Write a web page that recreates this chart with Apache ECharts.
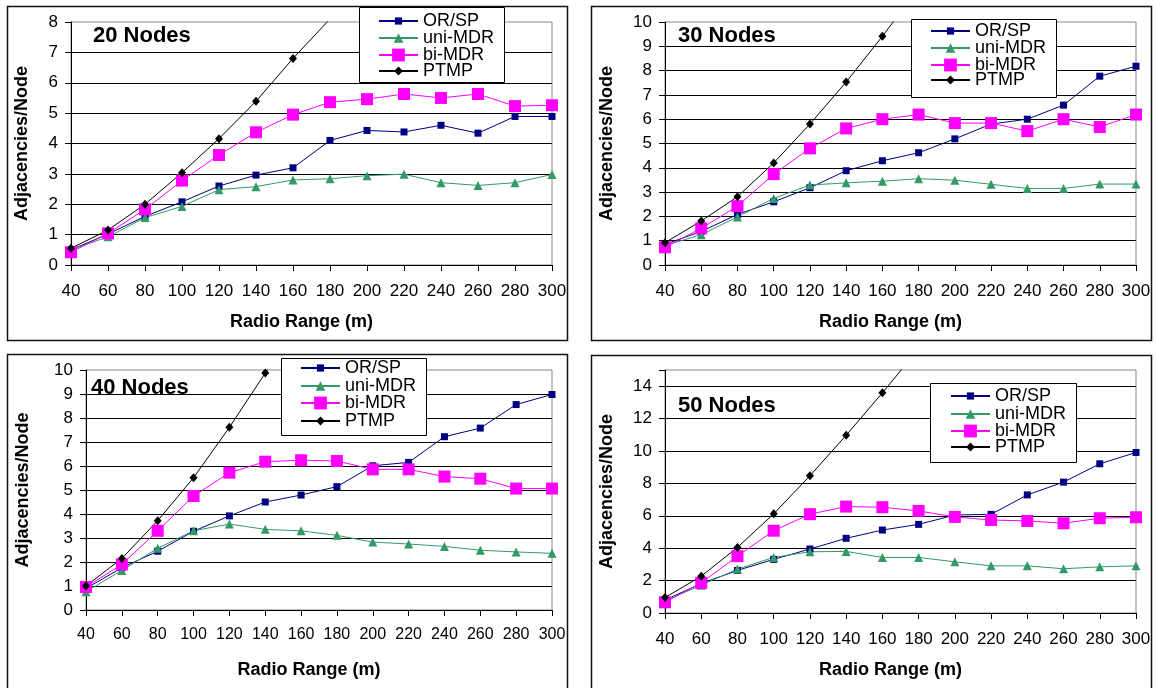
<!DOCTYPE html>
<html><head><meta charset="utf-8">
<script src="https://cdn.jsdelivr.net/npm/echarts@6/dist/echarts.min.js"></script>
<style>html,body{margin:0;padding:0;background:#fff}#c{width:1156px;height:688px}</style>
</head><body><div id="c"></div>
<script>
// ---------- DATA ----------
const radioRange = [40, 60, 80, 100, 120, 140, 160, 180, 200, 220, 240, 260, 280, 300];
const seriesNames = ['OR/SP', 'uni-MDR', 'bi-MDR', 'PTMP'];
const panelTitles = ['20 Nodes', '30 Nodes', '40 Nodes', '50 Nodes'];
const xAxisTitle = 'Radio Range (m)';
const yAxisTitle = 'Adjacencies/Node';
const yAxisMax = [8, 10, 10, 15];
const yAxisStep = [1, 1, 1, 2];

// 20 nodes
const orsp20 = [0.5, 1.02, 1.6, 2.08, 2.6, 2.96, 3.2, 4.1, 4.43, 4.38, 4.6, 4.34, 4.89, 4.89];
const uni20  = [0.5, 0.93, 1.56, 1.93, 2.48, 2.58, 2.8, 2.84, 2.94, 2.99, 2.71, 2.62, 2.71, 2.98];
const bi20   = [0.42, 1.04, 1.83, 2.78, 3.62, 4.37, 4.95, 5.36, 5.46, 5.63, 5.5, 5.63, 5.23, 5.26];
const ptmp20 = [0.55, 1.15, 2.0, 3.04, 4.16, 5.39, 6.8, 8.1];
// 30 nodes
const orsp30 = [0.85, 1.38, 2.08, 2.6, 3.18, 3.88, 4.29, 4.62, 5.19, 5.8, 6.0, 6.58, 7.77, 8.18];
const uni30  = [0.8, 1.25, 1.98, 2.74, 3.29, 3.38, 3.45, 3.55, 3.49, 3.32, 3.15, 3.15, 3.33, 3.33];
const bi30   = [0.73, 1.51, 2.42, 3.74, 4.8, 5.62, 6.0, 6.19, 5.84, 5.84, 5.51, 6.0, 5.68, 6.19];
const ptmp30 = [0.92, 1.81, 2.81, 4.2, 5.8, 7.53, 9.41, 11.4];
// 40 nodes
const orsp40 = [0.9, 1.76, 2.45, 3.28, 3.92, 4.5, 4.79, 5.14, 6.01, 6.15, 7.22, 7.58, 8.56, 8.98];
const uni40  = [0.76, 1.65, 2.57, 3.3, 3.58, 3.36, 3.3, 3.11, 2.83, 2.75, 2.65, 2.49, 2.42, 2.36];
const bi40   = [0.96, 1.9, 3.3, 4.75, 5.72, 6.18, 6.24, 6.21, 5.86, 5.86, 5.56, 5.47, 5.06, 5.06];
const ptmp40 = [1.0, 2.15, 3.72, 5.51, 7.61, 9.87, 12.3];
// 50 nodes
const orsp50 = [0.8, 1.82, 2.63, 3.31, 3.95, 4.61, 5.12, 5.47, 6.05, 6.09, 7.29, 8.08, 9.21, 9.91];
const uni50  = [0.75, 1.72, 2.71, 3.43, 3.78, 3.8, 3.43, 3.43, 3.16, 2.91, 2.91, 2.73, 2.85, 2.91];
const bi50   = [0.66, 1.86, 3.51, 5.08, 6.1, 6.57, 6.53, 6.3, 5.93, 5.74, 5.68, 5.54, 5.85, 5.91];
const ptmp50 = [0.95, 2.27, 4.05, 6.12, 8.47, 10.97, 13.59, 16.3];

const panelData = [
  [orsp20, uni20, bi20, ptmp20],
  [orsp30, uni30, bi30, ptmp30],
  [orsp40, uni40, bi40, ptmp40],
  [orsp50, uni50, bi50, ptmp50]
];

// ---------- LAYOUT / STYLE ----------
const FONT = '"Liberation Sans", Arial, sans-serif';
const layout = [
  { grid: {left: 71, top: 22, width: 481, height: 243}, box: [7, 6, 560, 334],
    legBox: [359, 7, 145, 75], legRows: [21, 38, 55, 71], legX: 378, title: [93, 35],
    yNameGap: 40, xNameGap: 48, xLabMargin: 18, xLabSize: 17 },
  { grid: {left: 665, top: 22, width: 471, height: 243}, box: [591, 6, 560, 334],
    legBox: [911, 19, 145, 78], legRows: [31, 48, 65, 80], legX: 930, title: [678, 35],
    yNameGap: 49, xNameGap: 48, xLabMargin: 18, xLabSize: 17 },
  { grid: {left: 86, top: 370, width: 466, height: 240}, box: [7, 354, 560, 360],
    legBox: [281, 358, 145, 77], legRows: [368, 386, 403, 421], legX: 300, title: [91, 387],
    yNameGap: 54, xNameGap: 51, xLabMargin: 17, xLabSize: 16 },
  { grid: {left: 665, top: 370, width: 471, height: 243}, box: [591, 355, 560, 360],
    legBox: [930, 383, 146, 79], legRows: [396, 414, 431, 447], legX: 950, title: [678, 405],
    yNameGap: 49, xNameGap: 48, xLabMargin: 18, xLabSize: 17 }
];
const sStyle = [
  {color: '#000080', symbol: 'rect', size: 7, legH: 9},
  {color: '#339966', symbol: 'triangle', size: 9, legH: 12},
  {color: '#FF00FF', symbol: 'rect', size: 12, legH: 16},
  {color: '#000000', symbol: 'diamond', size: [8, 9], legH: 11}
];

const grids = [], xAxes = [], yAxes = [], series = [], legends = [], graphics = [];
layout.forEach((L, p) => {
  grids.push(Object.assign({show: true, borderColor: '#888', borderWidth: 1, backgroundColor: 'transparent'}, L.grid));
  xAxes.push({
    type: 'value', gridIndex: p, min: 40, max: 300, interval: 20,
    name: xAxisTitle, nameLocation: 'middle', nameGap: L.xNameGap,
    nameTextStyle: {fontFamily: FONT, fontSize: 18, fontWeight: 'bold', color: '#000', padding: [0, 20, 0, 0]},
    axisLine: {lineStyle: {color: '#000', width: 1}},
    axisTick: {length: 6, lineStyle: {color: '#000'}},
    axisLabel: {fontFamily: FONT, fontSize: L.xLabSize, color: '#000', margin: L.xLabMargin},
    splitLine: {show: false}
  });
  yAxes.push({
    type: 'value', gridIndex: p, min: 0, max: yAxisMax[p], interval: yAxisStep[p],
    name: yAxisTitle, nameLocation: 'middle', nameGap: L.yNameGap,
    nameTextStyle: {fontFamily: FONT, fontSize: 18, fontWeight: 'bold', color: '#000'},
    axisLine: {show: true, lineStyle: {color: '#000', width: 1}},
    axisTick: {show: true, length: 6, lineStyle: {color: '#000'}},
    axisLabel: {fontFamily: FONT, fontSize: 17, color: '#000', margin: 13,
      formatter: v => (v > yAxisMax[p] - yAxisStep[p] && v % yAxisStep[p] !== 0) ? '' : String(v)},
    splitLine: {show: true, showMaxLine: false, lineStyle: {color: '#000', width: 1}}
  });
  panelData[p].forEach((arr, s) => {
    const st = sStyle[s];
    series.push({
      type: 'line', name: seriesNames[s], xAxisIndex: p, yAxisIndex: p,
      data: arr.map((v, i) => [radioRange[i], v]),
      symbol: st.symbol, symbolSize: st.size, showAllSymbol: true,
      itemStyle: {color: st.color},
      lineStyle: {color: st.color, width: 1},
      emphasis: {disabled: true}, clip: true, z: 2
    });
    legends.push({
      orient: 'vertical', left: L.legX, top: L.legRows[s] - 9, padding: 0, itemGap: 0,
      itemWidth: 39, itemHeight: st.legH,
      data: [seriesNames[s]],
      textStyle: {fontFamily: FONT, fontSize: 18, lineHeight: 18, color: '#000'},
      z: 6
    });
  });
  graphics.push({
    type: 'rect', z: 1, silent: true,
    shape: {x: L.box[0] + 0.5, y: L.box[1] + 0.5, width: L.box[2], height: L.box[3]},
    style: {fill: 'none', stroke: '#111', lineWidth: 1.5}
  });
  graphics.push({
    type: 'rect', z: 5, silent: true,
    shape: {x: L.legBox[0] + 0.5, y: L.legBox[1] + 0.5, width: L.legBox[2], height: L.legBox[3]},
    style: {fill: '#fff', stroke: '#000', lineWidth: 1}
  });
  graphics.push({
    type: 'text', z: 5, silent: true, x: L.title[0], y: L.title[1] + 1,
    style: {text: panelTitles[p], fill: '#000', fontFamily: FONT, fontSize: 22, fontWeight: 'bold',
            align: 'left', verticalAlign: 'middle'}
  });
});

const chart = echarts.init(document.getElementById('c'), null, {renderer: 'canvas'});
chart.setOption({
  animation: false,
  backgroundColor: '#fff',
  grid: grids, xAxis: xAxes, yAxis: yAxes, series: series, legend: legends,
  graphic: {elements: graphics}
});
</script></body></html>
